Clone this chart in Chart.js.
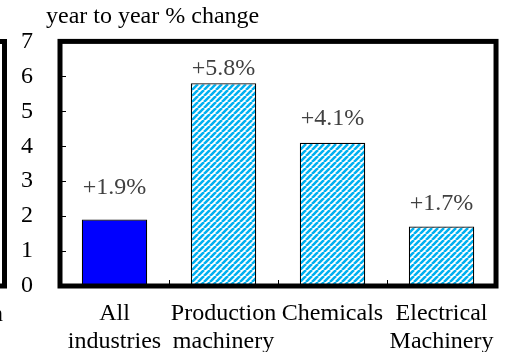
<!DOCTYPE html>
<html>
<head>
<meta charset="utf-8">
<script src="https://cdn.jsdelivr.net/npm/chart.js@4.4.1/dist/chart.umd.min.js"></script>
<style>
  html, body { margin: 0; padding: 0; background: #ffffff; }
  #wrap { width: 509px; height: 352px; }
</style>
</head>
<body>
<div id="wrap"><canvas id="c" width="509" height="352"></canvas></div>
<script>
// Production by industry, year-to-year % change
const categories = [
  ['All', 'industries'],
  ['Production', 'machinery'],
  'Chemicals',
  ['Electrical', 'Machinery']
];
const changes = [1.9, 5.8, 4.1, 1.7];
const valueLabels = ['+1.9%', '+5.8%', '+4.1%', '+1.7%'];
const yTicks = [0, 1, 2, 3, 4, 5, 6, 7];
const unitsLabel = 'year to year % change';

const SERIF = '"Liberation Serif", "Times New Roman", serif';
const FONT_PX = 24;

// Cyan/white diagonal hatching for the industry bars
function makeHatch() {
  const s = 6;
  const tile = document.createElement('canvas');
  tile.width = s; tile.height = s;
  const g = tile.getContext('2d');
  g.fillStyle = '#ffffff';
  g.fillRect(0, 0, s, s);
  g.strokeStyle = '#00b0f0';
  g.lineWidth = 2.6;
  g.beginPath();
  for (let k = -1; k <= 1; k++) {
    g.moveTo(k * s, s);
    g.lineTo(k * s + s, 0);
  }
  g.stroke();
  return g.createPattern(tile, 'repeat');
}
const hatchFill = makeHatch();

const barColors = changes.map((v, i) => (i === 0 ? '#0000ff' : hatchFill));

// Frame, inner tick marks, title, value labels and the neighbouring panel edge
const decor = {
  id: 'decor',
  afterDatasetsDraw(chart) {
    const ctx = chart.ctx;
    const a = chart.chartArea;
    const xs = chart.scales.x;
    const ys = chart.scales.y;
    ctx.save();

    // inner ticks on the value axis
    ctx.strokeStyle = '#000';
    ctx.lineWidth = 1;
    yTicks.forEach(v => {
      const y = Math.round(ys.getPixelForValue(v)) + 0.5;
      ctx.beginPath();
      ctx.moveTo(a.left, y);
      ctx.lineTo(a.left + 6, y);
      ctx.stroke();
    });
    // inner ticks between categories
    for (let i = 0; i < categories.length - 1; i++) {
      const x = Math.round((xs.getPixelForValue(i) + xs.getPixelForValue(i + 1)) / 2) + 0.5;
      ctx.beginPath();
      ctx.moveTo(x, a.bottom);
      ctx.lineTo(x, a.bottom - 6);
      ctx.stroke();
    }

    // heavy plot frame
    ctx.lineWidth = 5;
    ctx.strokeRect(a.left, a.top, a.right - a.left, a.bottom - a.top);

    // value labels above the bars
    ctx.fillStyle = '#404040';
    ctx.font = FONT_PX + 'px ' + SERIF;
    ctx.textAlign = 'center';
    ctx.textBaseline = 'middle';
    const lift = [32, 15, 24, 23];
    const meta = chart.getDatasetMeta(0);
    meta.data.forEach((bar, i) => {
      ctx.fillText(valueLabels[i], bar.x, bar.y - lift[i]);
    });

    // units caption
    ctx.fillStyle = '#000';
    ctx.textAlign = 'left';
    ctx.textBaseline = 'alphabetic';
    ctx.fillText(unitsLabel, 46, 23);

    // right edge of the adjoining panel
    ctx.lineWidth = 5;
    ctx.beginPath();
    ctx.moveTo(-4, a.top);
    ctx.lineTo(4.5, a.top);
    ctx.lineTo(4.5, a.bottom);
    ctx.lineTo(-4, a.bottom);
    ctx.stroke();
    ctx.fillText('n', -9, 321);

    ctx.restore();
  }
};

new Chart(document.getElementById('c'), {
  type: 'bar',
  data: {
    labels: categories,
    datasets: [{
      data: changes,
      backgroundColor: barColors,
      borderColor: '#000000',
      borderWidth: 1.2,
      barPercentage: 0.6,
      categoryPercentage: 1.0
    }]
  },
  options: {
    responsive: false,
    animation: false,
    devicePixelRatio: 1,
    layout: { padding: { top: 39, right: 12, left: 0, bottom: 0 } },
    plugins: {
      legend: { display: false },
      tooltip: { enabled: false },
      title: { display: false }
    },
    scales: {
      x: {
        offset: true,
        grid: { display: false, drawTicks: false },
        border: { display: false },
        afterFit(scale) { scale.height = 66; },
        ticks: {
          color: '#000',
          padding: 14,
          maxRotation: 0,
          autoSkip: false,
          font: { family: SERIF, size: FONT_PX, lineHeight: 1.17 }
        }
      },
      y: {
        min: 0,
        max: 7,
        grid: { display: false, drawTicks: false },
        border: { display: false },
        afterFit(scale) { scale.width = 60; },
        afterBuildTicks(scale) { scale.ticks = yTicks.map(v => ({ value: v })); },
        ticks: {
          color: '#000',
          padding: 27,
          font: { family: SERIF, size: FONT_PX }
        }
      }
    }
  },
  plugins: [decor]
});
</script>
</body>
</html>
